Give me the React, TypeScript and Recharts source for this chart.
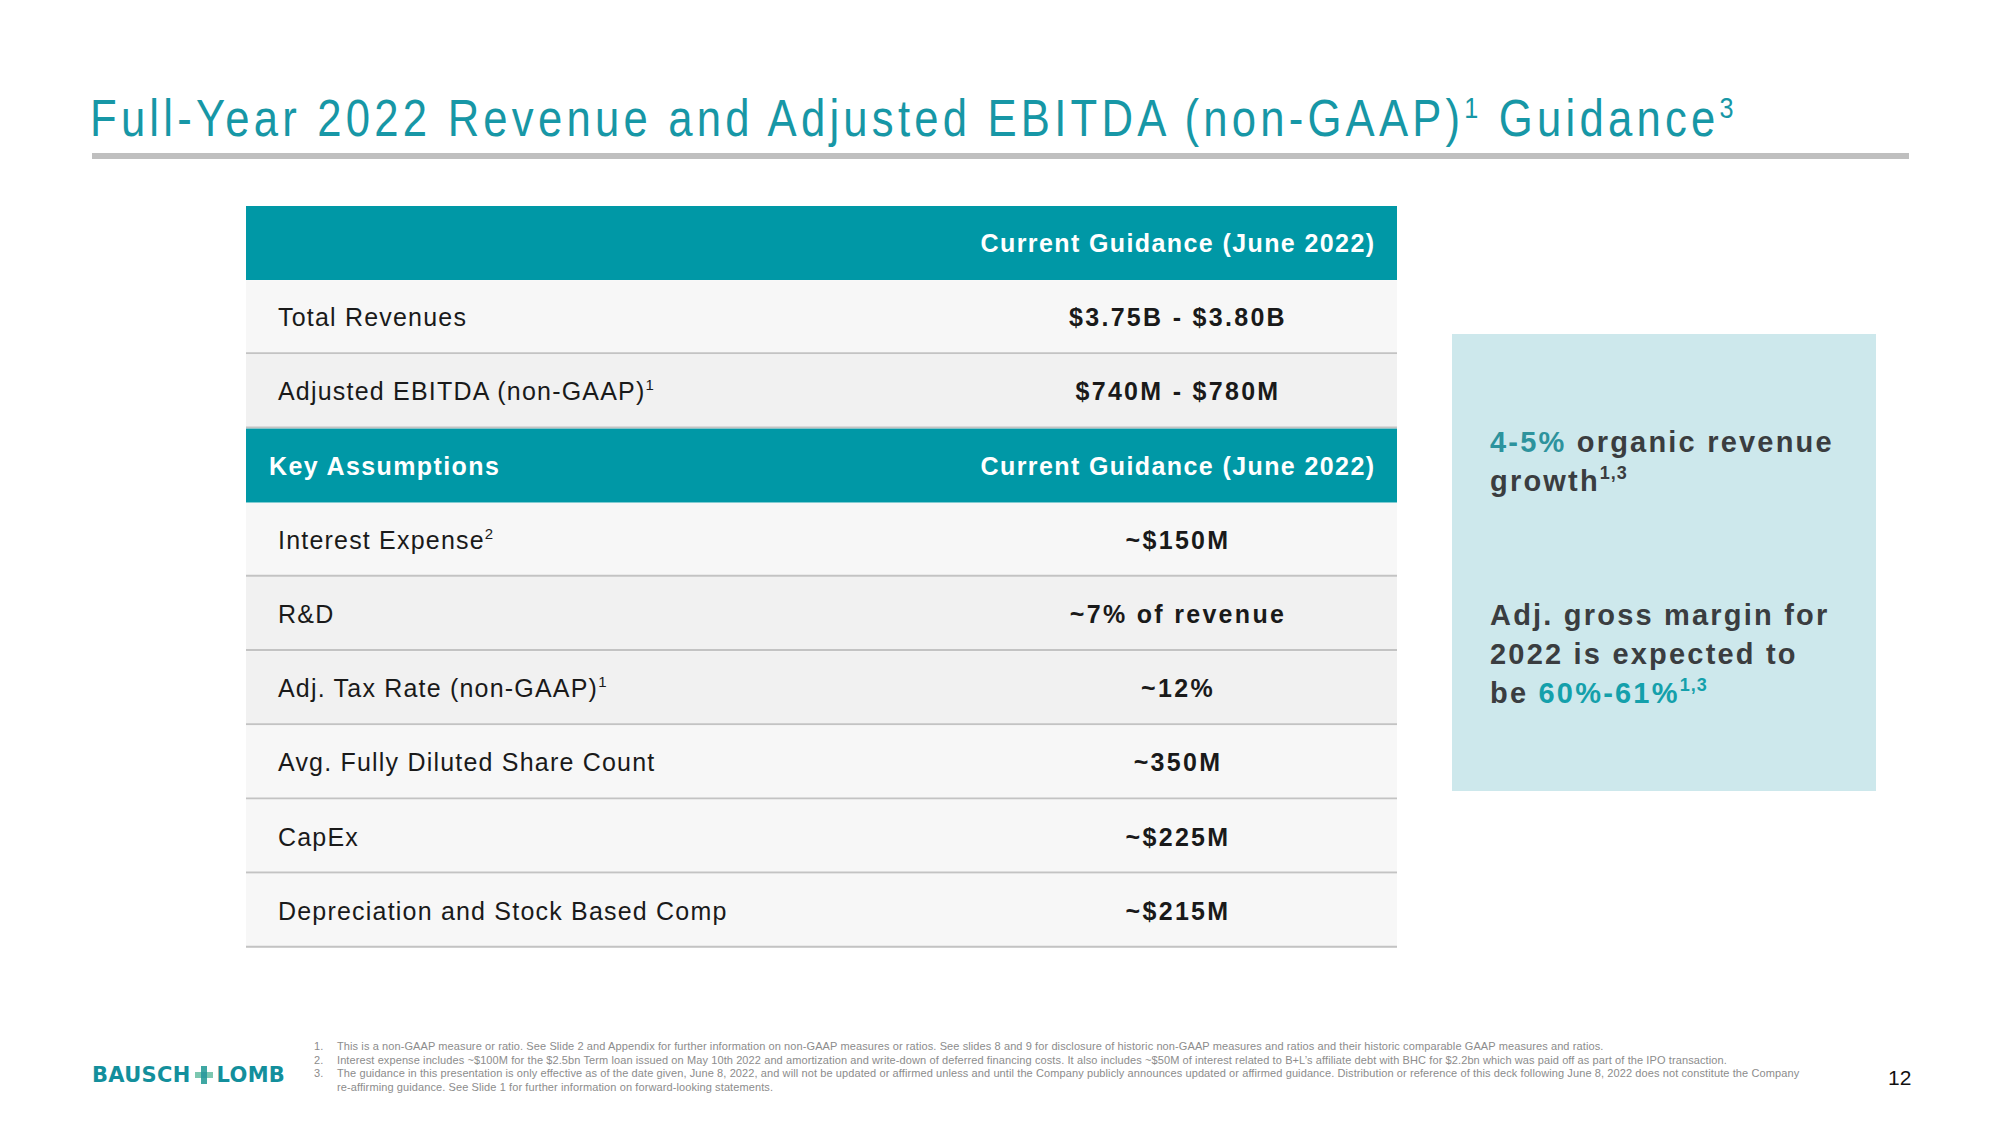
import React from "react"
import { BarChart, Bar, XAxis, YAxis } from "recharts"

// table rows, top to bottom
const rowLabels = [
  "",
  "Total Revenues",
  "Adjusted EBITDA (non-GAAP)",
  "Key Assumptions",
  "Interest Expense",
  "R&D",
  "Adj. Tax Rate (non-GAAP)",
  "Avg. Fully Diluted Share Count",
  "CapEx",
  "Depreciation and Stock Based Comp",
]
const rowNotes = ["", "", "1", "", "2", "", "1", "", "", ""]
const rowValues = [
  "Current Guidance (June 2022)",
  "$3.75B - $3.80B",
  "$740M - $780M",
  "Current Guidance (June 2022)",
  "~$150M",
  "~7% of revenue",
  "~12%",
  "~350M",
  "~$225M",
  "~$215M",
]
const rowIsHeader = [true, false, false, true, false, false, false, false, false, false]

const footnotes = [
  "This is a non-GAAP measure or ratio. See Slide 2 and Appendix for further information on non-GAAP measures or ratios. See slides 8 and 9 for disclosure of historic non-GAAP measures and ratios and their historic comparable GAAP measures and ratios.",
  "Interest expense includes ~$100M for the $2.5bn Term loan issued on May 10th 2022 and amortization and write-down of deferred financing costs. It also includes ~$50M of interest related to B+L\u2019s affiliate debt with BHC for $2.2bn which was paid off as part of the IPO transaction.",
  "The guidance in this presentation is only effective as of the date given, June 8, 2022, and will not be updated or affirmed unless and until the Company publicly announces updated or affirmed guidance. Distribution or reference of this deck following June 8, 2022 does not constitute the Company",
]
const footnoteTail = "re-affirming guidance. See Slide 1 for further information on forward-looking statements."

const tableData = rowLabels.map((label, i) => ({
  label,
  note: rowNotes[i],
  value: rowValues[i],
  header: rowIsHeader[i],
  span: 1,
}))

const NARROW = "'Liberation Sans Narrow', 'Arial Narrow', 'Liberation Sans', Arial, sans-serif"
const TEAL = "#0098a6"
const DARK = "#1a1a1a"

function RowShape(props: any) {
  const { x, y, width, height, payload, index } = props
  const cy = y + height / 2
  const isHead = payload.header
  const shade = index === 2 || index === 5 || index === 6 ? "#f1f1f1" : "#f7f7f7"
  return (
    <g>
      <rect x={x} y={y} width={width} height={height} fill={isHead ? TEAL : shade} />
      {!isHead && (
        <line x1={x} x2={x + width} y1={y + height - 1} y2={y + height - 1} stroke="#c3c3c3" strokeWidth={2} />
      )}
      {payload.label && (
        <text
          x={x + (isHead ? 23 : 32)}
          y={cy + 9}
          fontFamily={NARROW}
          fontSize={25}
          fontWeight={isHead ? 700 : 400}
          letterSpacing={isHead ? 1.4 : 1.2}
          fill={isHead ? "#ffffff" : DARK}
        >
          {payload.label}
          {payload.note && (
            <tspan dy={-10} fontSize={15} letterSpacing={0}>
              {payload.note}
            </tspan>
          )}
        </text>
      )}
      <text
        x={x + 932}
        y={cy + 9}
        textAnchor="middle"
        fontFamily={NARROW}
        fontSize={25}
        fontWeight={700}
        letterSpacing={isHead ? 1.4 : 2.3}
        fill={isHead ? "#ffffff" : DARK}
      >
        {payload.value}
      </text>
    </g>
  )
}

function Logo() {
  return (
    <div
      style={{
        position: "absolute",
        left: 92,
        top: 1063,
        display: "flex",
        alignItems: "center",
        fontFamily: "'DejaVu Sans', sans-serif",
        fontWeight: 700,
        fontSize: 21,
        letterSpacing: 0.3,
        color: "#138f9c",
        lineHeight: "24px",
      }}
    >
      <span>BAUSCH</span>
      <svg width={20} height={20} style={{ margin: "0 3px" }}>
        <rect x={7} y={1} width={6} height={18} fill="#3fa7a3" />
        <rect x={1} y={7} width={18} height={6} fill="#7cc7b0" />
        <rect x={7} y={7} width={6} height={6} fill="#2f9c9e" />
      </svg>
      <span>LOMB</span>
    </div>
  )
}

const boxText: React.CSSProperties = {
  position: "absolute",
  left: 38,
  width: 400,
  whiteSpace: "nowrap",
  fontFamily: NARROW,
  fontWeight: 700,
  fontSize: 29,
  letterSpacing: 2.2,
  lineHeight: "39px",
  color: "#3a3d40",
}
const supStyle: React.CSSProperties = { fontSize: 18, verticalAlign: 0, position: "relative", top: -12, letterSpacing: 1 }

export default function App() {
  return (
    <div style={{ position: "absolute", left: 0, top: 0, width: 2000, height: 1125, background: "#ffffff", overflow: "hidden" }}>
      <div
        style={{
          position: "absolute",
          left: 90,
          top: 88,
          fontFamily: NARROW,
          fontSize: 52,
          letterSpacing: 5,
          color: "#1797a6",
          whiteSpace: "nowrap",
          lineHeight: "60px",
          transform: "scaleX(0.84)",
          transformOrigin: "0 0",
        }}
      >
        Full-Year 2022 Revenue and Adjusted EBITDA (non-GAAP)
        <sup style={{ fontSize: 30, verticalAlign: 0, position: "relative", top: -18 }}>1</sup> Guidance
        <sup style={{ fontSize: 30, verticalAlign: 0, position: "relative", top: -18 }}>3</sup>
      </div>
      <div style={{ position: "absolute", left: 92, top: 153, width: 1817, height: 6, background: "#bfbfbf" }} />

      <div style={{ position: "absolute", left: 246, top: 206 }}>
        <BarChart
          width={1151}
          height={742}
          data={tableData}
          layout="vertical"
          margin={{ top: 0, right: 0, bottom: 0, left: 0 }}
          barCategoryGap={0}
        >
          <XAxis type="number" domain={[0, 1]} hide />
          <YAxis type="category" dataKey="label" hide />
          <Bar dataKey="span" isAnimationActive={false} shape={<RowShape />} />
        </BarChart>
      </div>

      <div
        style={{
          position: "absolute",
          left: 1452,
          top: 334,
          width: 424,
          height: 457,
          background: "#cde8ec",
        }}
      >
        <div style={{ ...boxText, top: 89 }}>
          <span style={{ color: "#2d939d" }}>4-5%</span> organic revenue
          <br />
          growth<sup style={supStyle}>1,3</sup>
        </div>
        <div style={{ ...boxText, top: 262 }}>
          Adj. gross margin for
          <br />
          2022 is expected to
          <br />
          be <span style={{ color: "#14a0ab" }}>60%-61%</span>
          <sup style={{ ...supStyle, color: "#14a0ab" }}>1,3</sup>
        </div>
      </div>

      <Logo />

      <div style={{ position: "absolute", left: 314, top: 1040, fontFamily: NARROW, fontSize: 11, color: "#8c8c8c", letterSpacing: 0.1, lineHeight: "13.7px" }}>
        {footnotes.map((t, i) => (
          <div key={i} style={{ whiteSpace: "nowrap" }}>
            <span style={{ display: "inline-block", width: 23 }}>{i + 1}.</span>
            {t}
          </div>
        ))}
        <div style={{ whiteSpace: "nowrap", paddingLeft: 23 }}>{footnoteTail}</div>
      </div>

      <div style={{ position: "absolute", left: 1888, top: 1066, fontFamily: NARROW, fontSize: 21, color: "#111", lineHeight: "24px" }}>12</div>
    </div>
  )
}
